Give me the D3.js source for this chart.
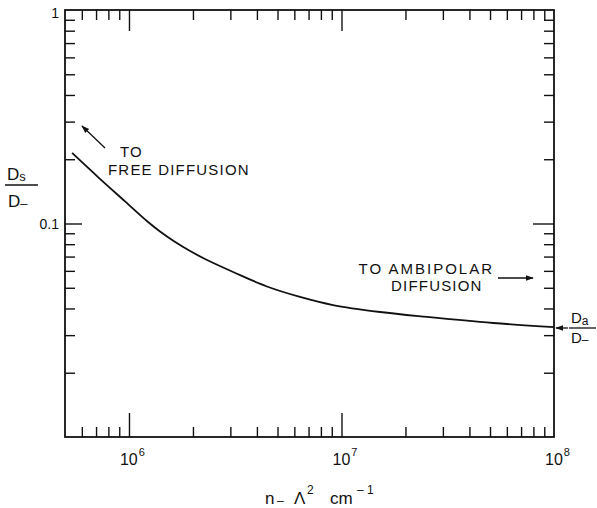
<!DOCTYPE html>
<html>
<head>
<meta charset="utf-8">
<script src="https://cdn.jsdelivr.net/npm/d3@7"></script>
<style>
  html, body { margin: 0; padding: 0; background: #fff; }
  svg { display: block; }
  text { font-family: "Liberation Sans", Arial, sans-serif; fill: #111; }
</style>
</head>
<body>
<svg id="chart" width="597" height="508"></svg>
<script>
// ---- data ----
const nLambda2 = [5.4e5, 7.15e5, 9.58e5, 1.23e6, 1.40e6, 1.65e6, 1.94e6, 2.28e6, 3.09e6, 4.46e6, 6.38e6, 9.12e6, 1.52e7, 2.53e7, 5.17e7, 1e8];
const dsOverDminus = [0.214, 0.165, 0.127, 0.1016, 0.0917, 0.0819, 0.0743, 0.0682, 0.0593, 0.0507, 0.0453, 0.0415, 0.0385, 0.0365, 0.0342, 0.0327];

const xMajorTicks = [1e6, 1e7, 1e8];
const xTickBase = ["10", "10", "10"];
const xTickExp = ["6", "7", "8"];
const yMajorTicks = [0.1, 1];
const yTickLabels = ["0.1", "1"];

// ---- layout ----
const svg = d3.select("#chart");
const pLeft = 65, pRight = 554, pTop = 10, pBottom = 437;

const x = d3.scaleLog().domain([5e5, 1e8]).range([pLeft, pRight]);
const y = d3.scaleLog().domain([0.01, 1]).range([pBottom, pTop]);

const ink = "#111";
const isMajorX = v => xMajorTicks.some(m => Math.abs(m - v) / m < 1e-6);
const isMajorY = v => yMajorTicks.some(m => Math.abs(m - v) / m < 1e-6);

const xMinor = x.ticks().filter(v => !isMajorX(v) && v > 5e5 && v < 1e8);
const yMinor = y.ticks().filter(v => !isMajorY(v) && v > 0.01 && v < 1);
const xMajorInner = xMajorTicks.filter(v => v < 1e8);
const yMajorInner = yMajorTicks.filter(v => v < 1);

function styleAxis(g) {
  g.select(".domain").remove();
  g.selectAll(".tick line").attr("stroke", ink).attr("stroke-width", 1.4);
}

// bottom axis (ticks inward)
svg.append("g").attr("transform", `translate(0,${pBottom})`)
  .call(d3.axisBottom(x).tickValues(xMinor).tickSize(-10).tickFormat("")).call(styleAxis);
svg.append("g").attr("transform", `translate(0,${pBottom})`)
  .call(d3.axisBottom(x).tickValues(xMajorInner).tickSize(-24).tickFormat("")).call(styleAxis);
// top axis
svg.append("g").attr("transform", `translate(0,${pTop})`)
  .call(d3.axisTop(x).tickValues(xMinor).tickSize(-10).tickFormat("")).call(styleAxis);
svg.append("g").attr("transform", `translate(0,${pTop})`)
  .call(d3.axisTop(x).tickValues(xMajorInner).tickSize(-21).tickFormat("")).call(styleAxis);
// left axis
svg.append("g").attr("transform", `translate(${pLeft},0)`)
  .call(d3.axisLeft(y).tickValues(yMinor).tickSize(-10).tickFormat("")).call(styleAxis);
svg.append("g").attr("transform", `translate(${pLeft},0)`)
  .call(d3.axisLeft(y).tickValues(yMajorInner).tickSize(-17).tickFormat("")).call(styleAxis);
// right axis
svg.append("g").attr("transform", `translate(${pRight},0)`)
  .call(d3.axisRight(y).tickValues(yMinor).tickSize(-10).tickFormat("")).call(styleAxis);
svg.append("g").attr("transform", `translate(${pRight},0)`)
  .call(d3.axisRight(y).tickValues(yMajorInner).tickSize(-21).tickFormat("")).call(styleAxis);

// frame
svg.append("rect")
  .attr("x", pLeft).attr("y", pTop)
  .attr("width", pRight - pLeft).attr("height", pBottom - pTop)
  .attr("fill", "none").attr("stroke", ink).attr("stroke-width", 1.8);

// x tick labels with superscripts
xMajorTicks.forEach((v, i) => {
  const t = svg.append("text")
    .attr("x", x(v) - 9).attr("y", 465)
    .attr("font-size", 16);
  t.append("tspan").text(xTickBase[i]);
  t.append("tspan").attr("dx", 1).attr("dy", -9).attr("font-size", 11).text(xTickExp[i]);
});

// y tick labels
yMajorTicks.forEach((v, i) => {
  svg.append("text")
    .attr("x", pLeft - 6).attr("y", y(v) + (v === 1 ? 8 : 5))
    .attr("text-anchor", "end")
    .attr("font-size", 14)
    .text(yTickLabels[i]);
});

// curve
const line = d3.line()
  .x((d, i) => x(nLambda2[i]))
  .y((d, i) => y(dsOverDminus[i]))
  .curve(d3.curveCatmullRom.alpha(0.5));
svg.append("path")
  .datum(dsOverDminus)
  .attr("d", line)
  .attr("fill", "none")
  .attr("stroke", ink)
  .attr("stroke-width", 1.8);

// arrow marker
svg.append("defs").append("marker")
  .attr("id", "ah").attr("viewBox", "0 0 10 10")
  .attr("refX", 9).attr("refY", 5)
  .attr("markerWidth", 8).attr("markerHeight", 8)
  .attr("markerUnits", "userSpaceOnUse")
  .attr("orient", "auto")
  .append("path").attr("d", "M0,1.5 L10,5 L0,8.5 Z").attr("fill", ink);

function arrow(x1, y1, x2, y2) {
  svg.append("line")
    .attr("x1", x1).attr("y1", y1).attr("x2", x2).attr("y2", y2)
    .attr("stroke", ink).attr("stroke-width", 1.3)
    .attr("marker-end", "url(#ah)");
}

function label(txt, xx, yy, anchor, spacing) {
  svg.append("text").attr("x", xx).attr("y", yy)
    .attr("font-size", 15).attr("letter-spacing", spacing)
    .attr("text-anchor", anchor || "start").text(txt);
}

// TO FREE DIFFUSION
label("TO", 120, 157, "start", 1.2);
label("FREE DIFFUSION", 108, 175, "start", 1.2);
arrow(105, 148, 82, 126);

// TO AMBIPOLAR DIFFUSION
label("TO AMBIPOLAR", 494, 274, "end", 2);
label("DIFFUSION", 391, 291, "start", 1.2);
arrow(498, 278, 533, 278);

// Da / D- at right
arrow(568, 328, 556, 328);
const da = svg.append("text").attr("x", 571).attr("y", 323).attr("font-size", 15);
da.append("tspan").text("D");
da.append("tspan").attr("font-size", 12).attr("dy", 2).text("a");
svg.append("line").attr("x1", 569).attr("x2", 596).attr("y1", 328).attr("y2", 328)
  .attr("stroke", ink).attr("stroke-width", 1.3);
const dm = svg.append("text").attr("x", 571).attr("y", 343).attr("font-size", 15);
dm.append("tspan").text("D");
dm.append("tspan").attr("font-size", 12).attr("dy", 1).text("\u2013");

// y axis label: Ds / D-
const ds = svg.append("text").attr("x", 7).attr("y", 180).attr("font-size", 17);
ds.append("tspan").text("D");
ds.append("tspan").attr("font-size", 13).attr("dy", 1).text("s");
svg.append("line").attr("x1", 5).attr("x2", 38).attr("y1", 185).attr("y2", 185)
  .attr("stroke", ink).attr("stroke-width", 1.3);
const dm2 = svg.append("text").attr("x", 8).attr("y", 207).attr("font-size", 17);
dm2.append("tspan").text("D");
dm2.append("tspan").attr("font-size", 13).attr("dy", 1).text("\u2013");

// x axis title: n_ Λ² cm⁻¹
const xt = svg.append("text").attr("y", 504).attr("font-size", 17);
xt.append("tspan").attr("x", 265).text("n");
xt.append("tspan").attr("x", 277).attr("y", 505).attr("font-size", 12).text("\u2013");
xt.append("tspan").attr("x", 294).attr("y", 504).text("\u039B");
xt.append("tspan").attr("x", 307).attr("y", 494).attr("font-size", 12).text("2");
xt.append("tspan").attr("x", 330).attr("y", 504).text("cm");
xt.append("tspan").attr("x", 357).attr("y", 494).attr("font-size", 12).text("\u2013 1");
</script>
</body>
</html>
